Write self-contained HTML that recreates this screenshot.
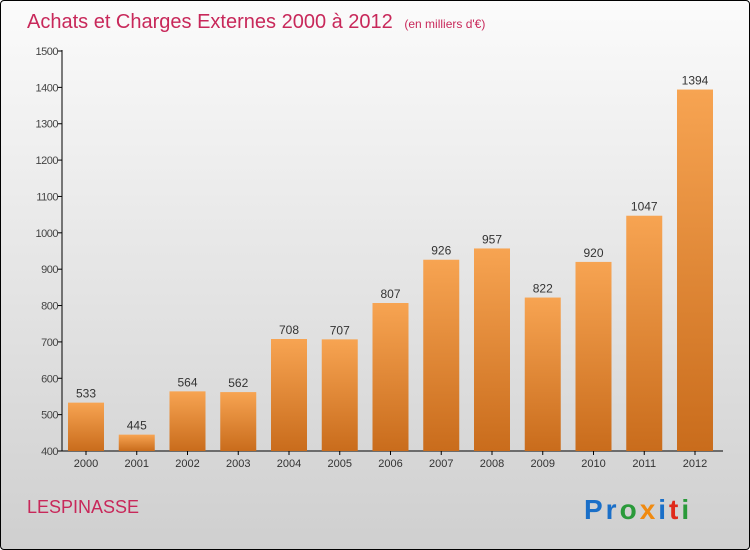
<!DOCTYPE html>
<html><head><meta charset="utf-8"><style>
body{margin:0}
#c{position:relative;width:748px;height:548px;border:1px solid #000;border-radius:4px;background:linear-gradient(#fbfbfb,#cfcfcf);overflow:hidden;font-family:"Liberation Sans",sans-serif}
</style></head><body>
<div id="c">
<svg width="748" height="548">
<defs><linearGradient id="bg" x1="0" y1="0" x2="0" y2="1"><stop offset="0" stop-color="#f7a452"/><stop offset="1" stop-color="#c96c1c"/></linearGradient></defs>
<text x="26" y="27" font-size="20" fill="#c8285a">Achats et Charges Externes 2000 à 2012 <tspan font-size="12" dx="6">(en milliers d'€)</tspan></text>
<g id="axes"></g><g id="bars"></g>
<text x="26" y="512" font-size="18" fill="#c8285a">LESPINASSE</text>
<text x="583" y="518" font-size="28" font-weight="bold" letter-spacing="3"><tspan fill="#1a6fc8">Pr</tspan><tspan fill="#2a9a3a">o</tspan><tspan fill="#f08a10">x</tspan><tspan fill="#1a6fc8">i</tspan><tspan fill="#e02a1a">t</tspan><tspan fill="#2a9a3a">i</tspan></text>
</svg></div>
<script>
const years=["2000","2001","2002","2003","2004","2005","2006","2007","2008","2009","2010","2011","2012"];
const values=[533,445,564,562,708,707,807,926,957,822,920,1047,1394];
const yTicks=[400,500,600,700,800,900,1000,1100,1200,1300,1400,1500];
const NS="http://www.w3.org/2000/svg";
const y=v=>450-(v-400)*400/1100;
const x=i=>85+i*50.75;
const ax=document.getElementById('axes'),bg=document.getElementById('bars');
function mk(t,a,p,txt){const e=document.createElementNS(NS,t);for(const k in a)e.setAttribute(k,a[k]);if(txt!==undefined)e.textContent=txt;p.appendChild(e);return e;}
let l=mk('line',{x1:61,y1:49,x2:61,y2:450,stroke:'#000'},ax);


l=mk('line',{x1:61,y1:450,x2:722,y2:450,stroke:'#000'},ax);


yTicks.forEach(v=>{mk('line',{x1:57,x2:61,y1:y(v),y2:y(v),stroke:'#000'},ax);
const t=mk('text',{x:57,y:y(v)+4,'font-size':11,'text-anchor':'end',fill:'#444','letter-spacing':'-0.5'},ax,v);

});
values.forEach((v,i)=>{
const r=mk('rect',{x:x(i)-18,y:y(v),width:36,height:450-y(v),fill:'url(#bg)'},bg);


const t=mk('text',{x:x(i),y:y(v)-5,'font-size':12,'text-anchor':'middle',fill:'#333'},bg,v);


mk('line',{x1:x(i),x2:x(i),y1:450,y2:454,stroke:'#000'},ax);
const xl=mk('text',{x:x(i),y:466,'font-size':11,'text-anchor':'middle',fill:'#333'},ax,years[i]);


});
</script></body></html>
